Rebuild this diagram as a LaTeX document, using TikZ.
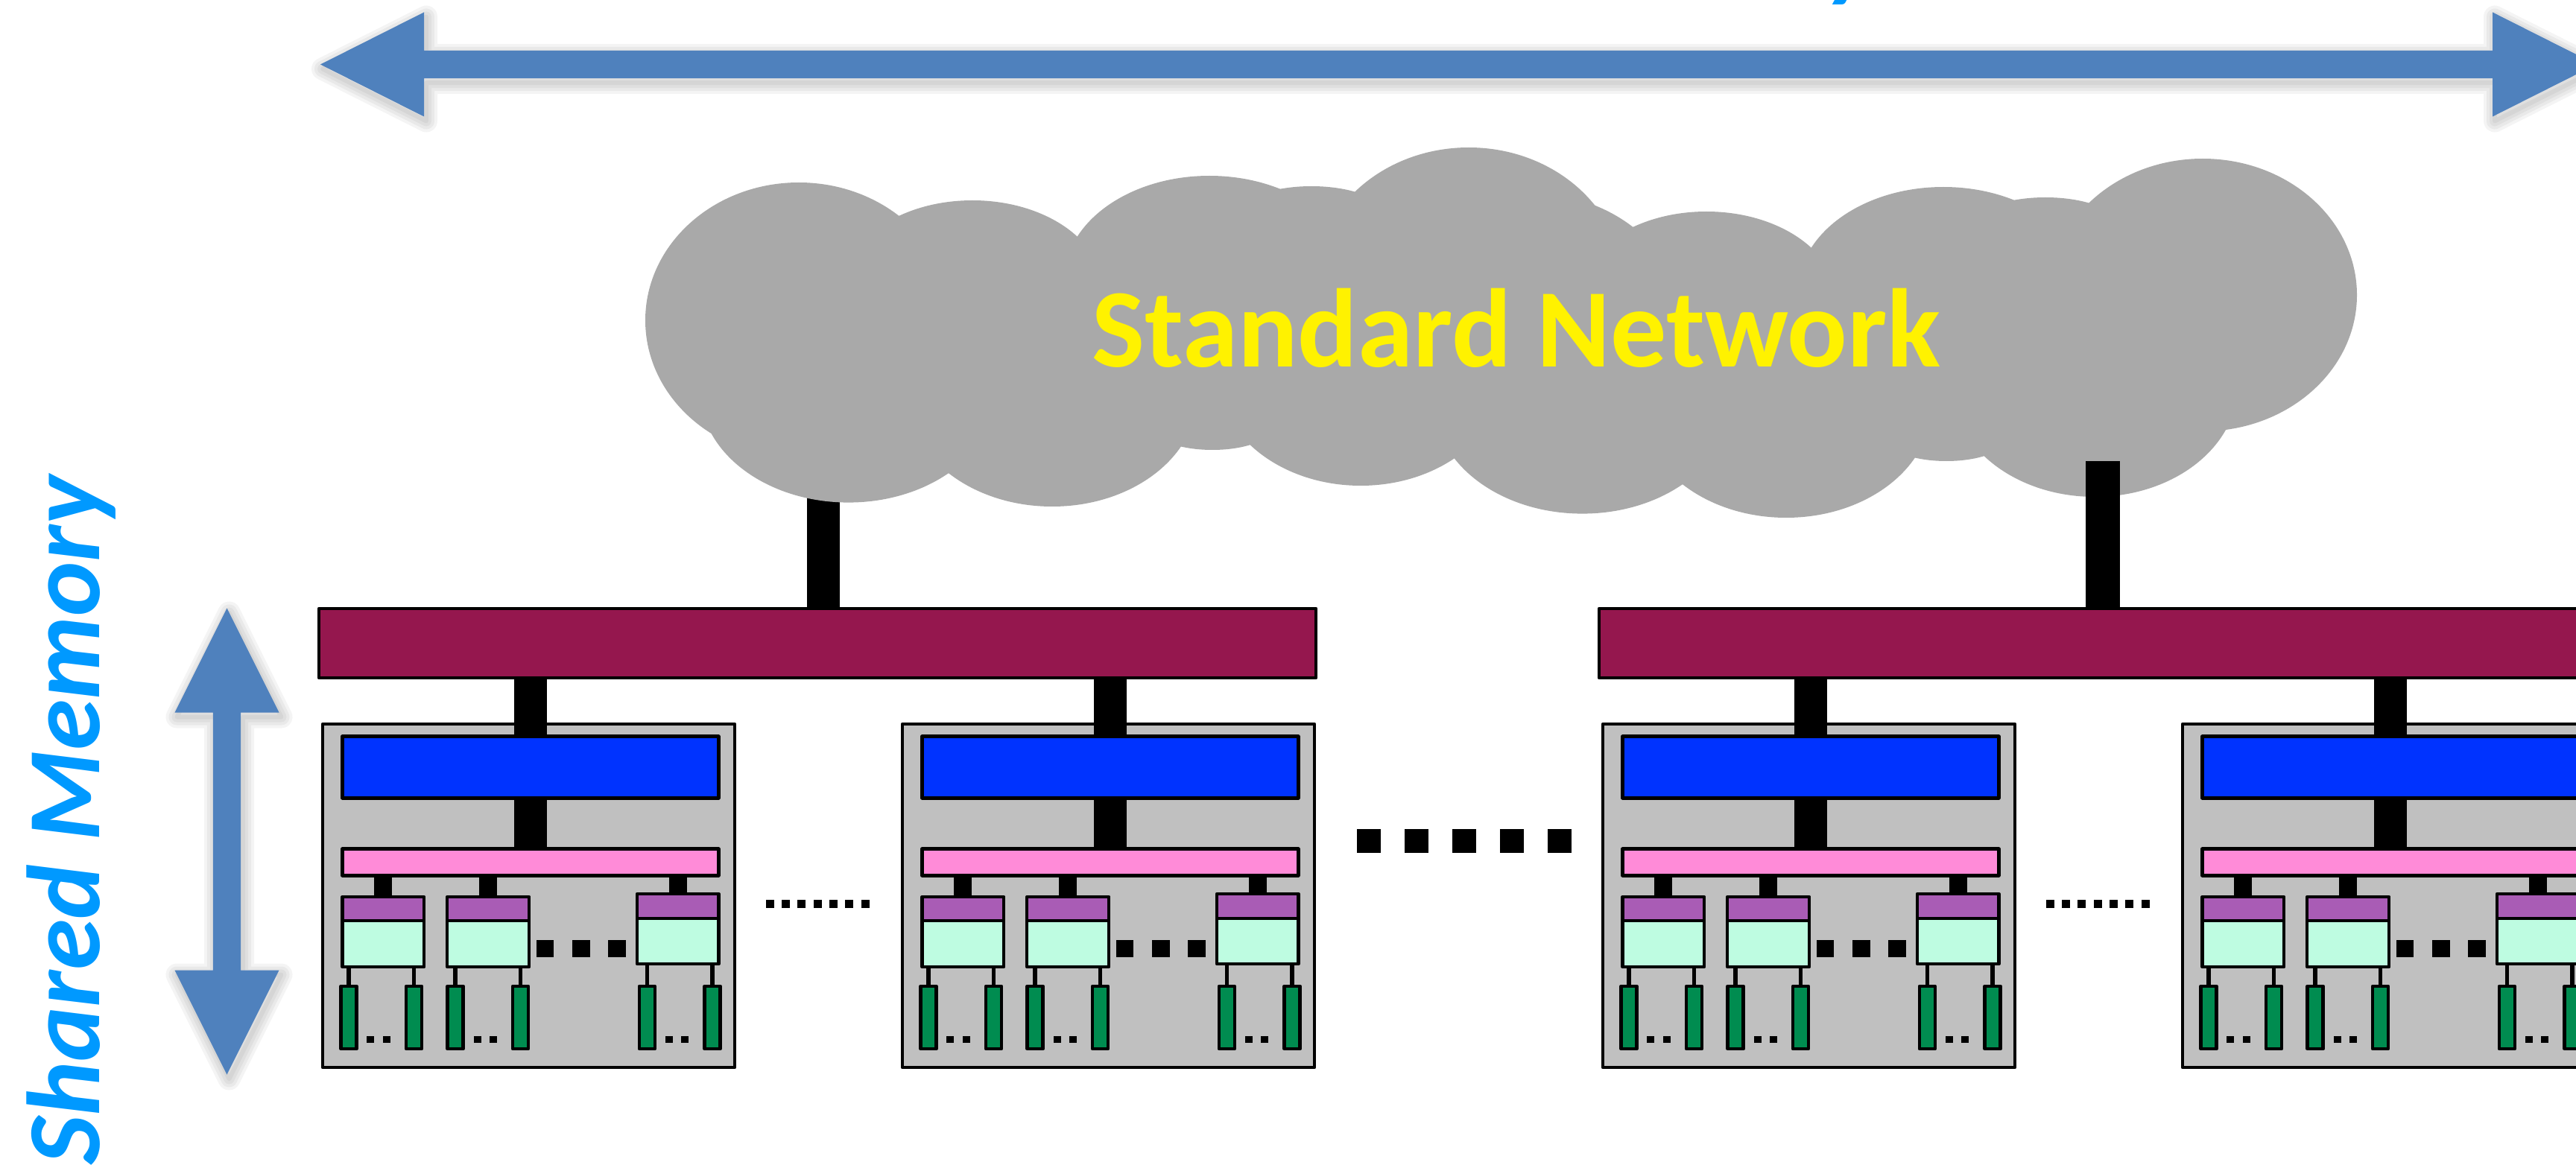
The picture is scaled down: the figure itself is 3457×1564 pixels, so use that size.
\documentclass[tikz,border=0pt]{standalone}
\usepackage{fontspec}
\setmainfont{Carlito}
\usetikzlibrary{fit}

\definecolor{arrowblue}{RGB}{79,129,189}
\definecolor{labelblue}{RGB}{0,153,255}
\definecolor{cloudgray}{RGB}{169,169,169}
\definecolor{nodegray}{RGB}{192,192,192}
\definecolor{busred}{RGB}{149,23,78}
\definecolor{memblue}{RGB}{0,51,255}
\definecolor{linkpink}{RGB}{255,139,216}
\definecolor{cachepurple}{RGB}{169,92,181}
\definecolor{coremint}{RGB}{190,252,225}
\definecolor{dimmgreen}{RGB}{0,140,80}

\tikzset{
  hwbox/.style={draw=black, line width=0.045cm, line join=round,
    rectangle, inner sep=0pt, outer sep=0pt},
  fatlink/.style={line width=0.44cm},
  smalllink/.style={line width=0.24cm},
  wirelink/.style={line width=0.055cm},
  haze/.style={draw=black, line join=round, opacity=0.045},
  labeltext/.style={font=\fontsize{39.6}{46}\selectfont\bfseries\itshape,
    text=labelblue, inner sep=0pt},
}

% one cloud: a filled core with overlapping lobes round it
\newcommand\cloudlobes{%
  \fill[cloudgray] (1000,450) -- (1210,300) -- (1445,322) -- (1714,265) -- (1821,270)
    -- (2050,381) -- (1990,550) -- (1685,595) -- (1582,591) -- (1273,626) -- (970,575) -- cycle;
  \fill[cloudgray] (1072,430) ellipse [x radius=206, y radius=185];
  \fill[cloudgray] (1305,389) ellipse [x radius=175, y radius=120];
  \fill[cloudgray] (1623,376) ellipse [x radius=195, y radius=140];
  \fill[cloudgray] (1760,290) ellipse [x radius=100, y radius=40];
  \fill[cloudgray] (1971,381) ellipse [x radius=207, y radius=183];
  \fill[cloudgray] (1138.5,524.6) ellipse [x radius=199, y radius=150];
  \fill[cloudgray] (1412,530) ellipse [x radius=195, y radius=150];
  \fill[cloudgray] (1627,574) ellipse [x radius=80, y radius=30];
  \fill[cloudgray] (1826,502) ellipse [x radius=192, y radius=150];
}

\begin{document}
\begin{tikzpicture}[x=0.01cm, y=-0.01cm]
\useasboundingbox (0,0) rectangle (3457,1564);
\clip (0,0) rectangle (3457,1564);

% soft shadows under the two double arrows
\begin{scope}[shift={(3,6)}]
  \foreach \lw in {0.30cm,0.22cm,0.14cm,0.06cm}{
    \draw[haze, line width=\lw] (430,86.5) -- (569,16.5) -- (569,67.8) -- (3345,67.8)
      -- (3345,16.5) -- (3484,86.5) -- (3345,156.5) -- (3345,105.2) -- (569,105.2)
      -- (569,156.5) -- cycle;
    \draw[haze, line width=\lw] (304.5,816.5) -- (374.5,956.5) -- (323.2,956.5)
      -- (323.2,1302.5) -- (374.5,1302.5) -- (304.5,1442.5) -- (234.5,1302.5)
      -- (285.8,1302.5) -- (285.8,956.5) -- (234.5,956.5) -- cycle;
  }
\end{scope}

% double arrows
\fill[arrowblue] (430,86.5) -- (569,16.5) -- (569,67.8) -- (3345,67.8)
  -- (3345,16.5) -- (3484,86.5) -- (3345,156.5) -- (3345,105.2) -- (569,105.2)
  -- (569,156.5) -- cycle;
\fill[arrowblue] (304.5,816.5) -- (374.5,956.5) -- (323.2,956.5)
  -- (323.2,1302.5) -- (374.5,1302.5) -- (304.5,1442.5) -- (234.5,1302.5)
  -- (285.8,1302.5) -- (285.8,956.5) -- (234.5,956.5) -- cycle;

% axis labels
\node[labeltext, anchor=base east] (distlabel) at (2519,-15) {Distributed Memory};
\node[labeltext, rotate=90, anchor=base east] (sharedlabel) at (133.3,638) {Shared Memory};

% buses
\node[hwbox, fill=busred, fit={(428,817) (1766,910)}] (busL) {};
\node[hwbox, fill=busred, fit={(2146,817) (3484,910)}] (busR) {};

% uplink of the left bus runs behind the cloud
\coordinate (upL) at (1105,600);
\draw[fatlink] (upL) -- (upL |- busL.north);

% network cloud
\cloudlobes
\begin{scope}[shift={(985,15)}]
  \cloudlobes
\end{scope}
\node[font=\fontsize{42.7}{50}\selectfont\bfseries, text=yellow, inner sep=0pt,
  anchor=base] (netname) at (2035,493) {Standard Network};

% uplink of the right bus lies over the cloud
\coordinate (upR) at (2822,619);
\draw[line width=0.46cm] (upR) -- (upR |- busR.north);

% compute nodes
\foreach \i/\bx/\bus in {1/431/busL, 2/1209/busL, 3/2149/busR, 4/2927/busR}{
  \node[hwbox, fill=nodegray, fit={(\bx+2,972) (\bx+555,1433)}] (box\i) {};
  \node[hwbox, fill=memblue, fit={(\bx+28.5,988.7) (\bx+533.4,1071.3)}] (mem\i) {};
  \node[hwbox, fill=linkpink, fit={(\bx+28.5,1139.7) (\bx+533.4,1175.3)}] (link\i) {};
  \draw[fatlink] (mem\i.north |- \bus.south) -- (mem\i.north);
  \draw[fatlink] (mem\i.south) -- (link\i.north);
  % sockets: cache above core, two memory modules below
  \foreach \s/\l/\r/\t/\m/\b/\p/\q/\d in {
      a/28.5/138.2/1204/1236/1298/37/124.5/61,
      b/169.2/279.2/1204/1236/1298/180.2/267.5/204.5,
      c/423.9/533.4/1200/1233/1294/437.3/525.2/461.5}{
    \node[hwbox, fill=cachepurple, fit={(\bx+\l,\t) (\bx+\r,\m)}] (cache\i\s) {};
    \node[hwbox, fill=coremint, fit={(\bx+\l,\m) (\bx+\r,\b)}] (core\i\s) {};
    \draw[smalllink] (cache\i\s.north |- link\i.south) -- (cache\i\s.north);
    \node[hwbox, fill=dimmgreen, fit={(\bx+\p-10.5,1324) (\bx+\p+10.5,1408)}] (dimm\i\s1) {};
    \node[hwbox, fill=dimmgreen, fit={(\bx+\q-10.5,1324) (\bx+\q+10.5,1408)}] (dimm\i\s2) {};
    \draw[wirelink] (dimm\i\s1.north |- core\i\s.south) -- (dimm\i\s1.north);
    \draw[wirelink] (dimm\i\s2.north |- core\i\s.south) -- (dimm\i\s2.north);
    \fill (\bx+\d,1390.7) rectangle +(10,9.5);
    \fill (\bx+\d+21.8,1390.7) rectangle +(10,9.5);
  }
  \foreach \dx in {288.7,337,385.2}
    \fill (\bx+\dx,1262) rectangle +(23.5,23);
}

% ellipses between the nodes
\foreach \k in {0,...,6}{
  \fill ({1027.7+\k*21.33},1208.3) rectangle +(11,10.7);
  \fill ({2745.7+\k*21.33},1208.3) rectangle +(11,10.7);
}
\foreach \k in {0,...,4}
  \fill ({1821.3+\k*64},1113) rectangle +(32,32);

\end{tikzpicture}
\end{document}
